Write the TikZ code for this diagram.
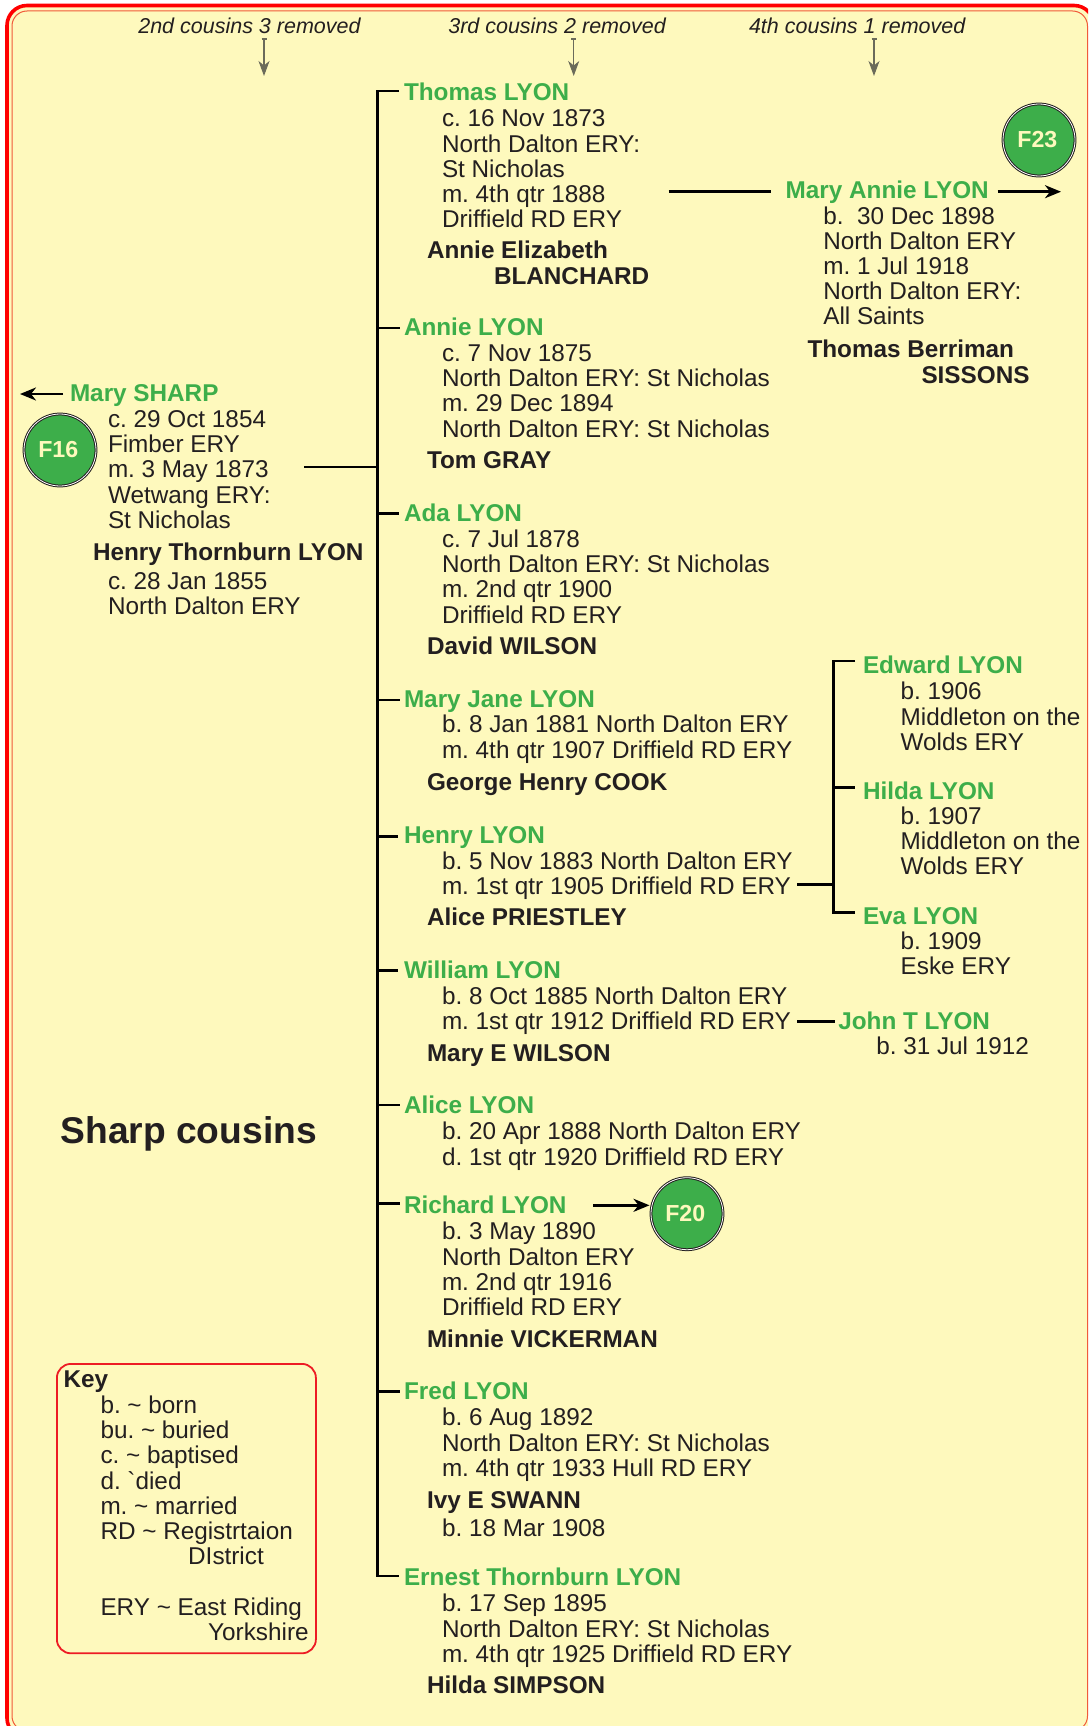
\documentclass[tikz,border=0pt]{standalone}
\usepackage{fontspec}
\setmainfont{Liberation Sans}
\frenchspacing
\usetikzlibrary{arrows.meta,calc}
\definecolor{cream}{HTML}{FEF9BD}
\definecolor{fgreen}{HTML}{3DAE4A}
\definecolor{ink}{HTML}{231F20}
\definecolor{framered}{HTML}{FF0000}
\definecolor{thinred}{HTML}{F15A3A}
\definecolor{keyred}{HTML}{ED1C24}
\definecolor{garrow}{HTML}{6B6B5A}
\newcommand\ls[1]{\vtop{\def\\{\cr}\halign{##\hfil\cr#1\crcr}}}
\newcommand\tld{\textasciitilde}
\tikzset{
  x=1pt,y=-1pt,
  txt/.style={anchor=base west,inner sep=0pt,outer sep=0pt,text=ink,yshift=-0.8pt},
  gname/.style={txt,text=fgreen,font=\fontsize{24.3}{25.2}\selectfont\bfseries},
  bodytxt/.style={txt,font=\fontsize{24.3}{25.2}\selectfont},
  spousetxt/.style={txt,font=\fontsize{24.3}{25.2}\selectfont\bfseries},
  headtxt/.style={txt,font=\fontsize{21.5}{25}\selectfont\itshape},
  famball/.style={circle,minimum size=72pt,inner sep=0pt,fill=fgreen,draw=ink,double=white,double distance=.8pt,line width=1pt,text=cream,font=\fontsize{23.2}{25}\selectfont\bfseries},
  tree/.style={line width=2.5pt,draw=black,line cap=butt},
  arr/.style={line width=2.5pt,draw=black,-{Stealth[length=16pt,width=13pt,inset=5pt]}},
  garr/.style={line width=1.1pt,draw=garrow,{Bar[width=5pt,length=1pt]}-{Stealth[length=15pt,width=11pt,inset=4.5pt]}},
}
\begin{document}
\begin{tikzpicture}
\useasboundingbox (0,0) rectangle (1088,1726);
\fill[white] (0,0) rectangle (1088,1726);
\begin{scope}
\clip (0,0) rectangle (1088,1726);
\draw[framered,line width=3.6pt,fill=cream,rounded corners=20pt] (7,5.5) rectangle (1094,1738);
\draw[thinred,line width=1pt,rounded corners=15pt] (12,11) rectangle (1087.5,1731);
\end{scope}

% column headers
\node[headtxt] (h2) at (138.3,32.7) {2nd cousins 3 removed};
\node[headtxt] (h3) at (448.3,32.7) {3rd cousins 2 removed};
\node[headtxt] (h4) at (749,32.7) {4th cousins 1 removed};
\coordinate (h2a) at (264,38.5); \coordinate (h2b) at (264,76);
\coordinate (h3a) at (573.7,38.5); \coordinate (h3b) at (573.7,76);
\coordinate (h4a) at (874,38.5); \coordinate (h4b) at (874,76);
\draw[garr] (h2a) -- (h2b);
\draw[garr] (h3a) -- (h3b);
\draw[garr] (h4a) -- (h4b);

% parents
\node[gname] (nSharp) at (70,400.7) {Mary SHARP};
\node[bodytxt] (bSharp) at (108,426.7) {\ls{c. 29 Oct 1854\\Fimber ERY\\m. 3 May 1873\\Wetwang ERY:\\St Nicholas}};
\node[spousetxt] (sHenryT) at (93,560) {Henry Thornburn LYON};
\node[bodytxt] (bHenryT) at (108,588.7) {\ls{c. 28 Jan 1855\\North Dalton ERY}};
\node[famball] (F16) at (60,450) {\kern-3.4pt F16};
\coordinate (sharpArrow) at (20,394);
\coordinate (parentStart) at (304,467);

% children
\node[gname] (nThomas) at (404,99.5) {Thomas LYON};
\node[bodytxt] (bThomas) at (442,126) {\ls{c. 16 Nov 1873\\North Dalton ERY:\\St Nicholas\\m. 4th qtr 1888\\Driffield RD ERY}};
\node[spousetxt] (sThomas) at (427,258) {\ls{Annie Elizabeth\\\hspace*{67pt}BLANCHARD}};

\node[gname] (nAnnie) at (404,335) {Annie LYON};
\node[bodytxt] (bAnnie) at (442,360.7) {\ls{c. 7 Nov 1875\\North Dalton ERY: St Nicholas\\m. 29 Dec 1894\\North Dalton ERY: St Nicholas}};
\node[spousetxt] (sAnnie) at (427,468) {Tom GRAY};

\node[gname] (nAda) at (404,521) {Ada LYON};
\node[bodytxt] (bAda) at (442,546.7) {\ls{c. 7 Jul 1878\\North Dalton ERY: St Nicholas\\m. 2nd qtr 1900\\Driffield RD ERY}};
\node[spousetxt] (sAda) at (427,654) {David WILSON};

\node[gname] (nMaryJ) at (404,707) {Mary Jane LYON};
\node[bodytxt] (bMaryJ) at (442,732) {\ls{b. 8 Jan 1881 North Dalton ERY\\m. 4th qtr 1907 Driffield RD ERY}};
\node[spousetxt] (sMaryJ) at (427,790) {George Henry COOK};

\node[gname] (nHenry) at (404,842.7) {Henry LYON};
\node[bodytxt] (bHenry) at (442,868.7) {\ls{b. 5 Nov 1883 North Dalton ERY\\m. 1st qtr 1905 Driffield RD ERY}};
\node[spousetxt] (sHenry) at (427,925) {Alice PRIESTLEY};

\node[gname] (nWilliam) at (404,978) {William LYON};
\node[bodytxt] (bWilliam) at (442,1003.7) {\ls{b. 8 Oct 1885 North Dalton ERY\\m. 1st qtr 1912 Driffield RD ERY}};
\node[spousetxt] (sWilliam) at (427,1060.7) {Mary E WILSON};

\node[gname] (nAlice) at (404,1113) {Alice LYON};
\node[bodytxt] (bAlice) at (442,1139) {\ls{b. 20 Apr 1888 North Dalton ERY\\d. 1st qtr 1920 Driffield RD ERY}};

\node[gname] (nRichard) at (404,1213) {Richard LYON};
\node[bodytxt] (bRichard) at (442,1239) {\ls{b. 3 May 1890\\North Dalton ERY\\m. 2nd qtr 1916\\Driffield RD ERY}};
\node[spousetxt] (sRichard) at (427,1346.7) {Minnie VICKERMAN};
\node[famball] (F20) at (687,1213.7) {\kern-3.4pt F20};

\node[gname] (nFred) at (404,1399) {Fred LYON};
\node[bodytxt] (bFred) at (442,1425) {\ls{b. 6 Aug 1892\\North Dalton ERY: St Nicholas\\m. 4th qtr 1933 Hull RD ERY}};
\node[spousetxt] (sFred) at (427,1507.7) {Ivy E SWANN};
\node[bodytxt] (bIvy) at (442,1536) {b. 18 Mar 1908};

\node[gname] (nErnest) at (404,1585) {Ernest Thornburn LYON};
\node[bodytxt] (bErnest) at (442,1611) {\ls{b. 17 Sep 1895\\North Dalton ERY: St Nicholas\\m. 4th qtr 1925 Driffield RD ERY}};
\node[spousetxt] (sErnest) at (427,1693) {Hilda SIMPSON};

% trunk
\coordinate (tThomas) at (377.5,91);
\coordinate (tParent) at (377.5,467);
\coordinate (tAnnie) at (377.5,328);
\coordinate (tAda) at (377.5,513.3);
\coordinate (tMaryJ) at (377.5,700);
\coordinate (tHenry) at (377.5,836.7);
\coordinate (tWilliam) at (377.5,970.7);
\coordinate (tAlice) at (377.5,1105);
\coordinate (tRichard) at (377.5,1203.7);
\coordinate (tFred) at (377.5,1391.7);
\coordinate (tErnest) at (377.5,1576);
\draw[tree,line join=miter,shorten <=5pt,shorten >=5pt] (tThomas -| nThomas.west) -- (tThomas) -- (tErnest) -- (tErnest -| nErnest.west);
\foreach \c/\g in {Annie/4,Ada/5,MaryJ/4,Henry/6,William/6,Alice/4,Richard/4,Fred/4}
  \draw[tree,shorten >=\g pt] (t\c) -- (t\c -| n\c.west);
\draw[tree] (parentStart) -- (tParent);
\draw[arr,shorten <=7pt] (sharpArrow -| nSharp.west) -- (sharpArrow);

% Mary Annie
\node[gname] (nMaryA) at (785.7,198) {Mary Annie LYON};
\node[bodytxt] (bMaryA) at (823.3,223.3) {\ls{b.\ \ 30 Dec 1898\\North Dalton ERY\\m. 1 Jul 1918\\North Dalton ERY:\\All Saints}};
\node[spousetxt] (sMaryA) at (807.5,357) {\ls{Thomas Berriman\\\hspace*{114pt}SISSONS}};
\node[famball] (F23) at (1039,140) {\kern-3.4pt F23};
\coordinate (maStart) at (668.5,191.7);
\coordinate (maEnd) at (1061,191.7);
\draw[tree,shorten >=15pt] (maStart) -- (maStart -| nMaryA.west);
\draw[arr,shorten <=9pt] (maEnd -| nMaryA.east) -- (maEnd);

% Henry's children
\node[gname] (nEdward) at (863,672.7) {Edward LYON};
\node[bodytxt] (bEdward) at (900.7,699) {\ls{b. 1906\\Middleton on the\\Wolds ERY}};
\node[gname] (nHilda) at (863,798.3) {Hilda LYON};
\node[bodytxt] (bHilda) at (900.7,823.7) {\ls{b. 1907\\Middleton on the\\Wolds ERY}};
\node[gname] (nEva) at (863,923.3) {Eva LYON};
\node[bodytxt] (bEva) at (900.7,948.3) {\ls{b. 1909\\Eske ERY}};
\coordinate (uEdward) at (833.3,661);
\coordinate (uHilda) at (833.3,787.3);
\coordinate (uEva) at (833.3,912.7);
\coordinate (uHenry) at (833.3,884.7);
\coordinate (henryStart) at (797.3,884.7);
\draw[tree,line join=miter,shorten <=8pt,shorten >=8pt] (uEdward -| nEdward.west) -- (uEdward) -- (uEva) -- (uEva -| nEva.west);
\draw[tree,shorten >=8pt] (uHilda) -- (uHilda -| nHilda.west);
\draw[tree] (henryStart) -- (uHenry);

% William's child
\node[gname] (nJohn) at (838.3,1028.3) {John T LYON};
\node[bodytxt] (bJohn) at (876.3,1053.7) {b. 31 Jul 1912};
\coordinate (johnStart) at (797.3,1021.3);
\draw[tree,shorten >=3pt] (johnStart) -- (johnStart -| nJohn.west);

% Richard to F20
\coordinate (richStart) at (593.3,1205.3);
\draw[arr,shorten >=1pt] (richStart) -- (richStart -| F20.west);

% title
\node[txt,font=\fontsize{37.2}{40}\selectfont\bfseries] (title) at (60.5,1142.5) {Sharp cousins};

% key
\node[draw=keyred,line width=1.8pt,rounded corners=14pt,minimum width=259pt,minimum height=289.4pt,inner sep=0pt,anchor=north west] (keybox) at (56,1363) {};
\node[spousetxt] (keyhead) at (63.5,1386.7) {Key};
\node[bodytxt] (keytext) at (100.5,1412.7) {\ls{b. \tld\ born\\bu. \tld\ buried\\c. \tld\ baptised\\d. \textasciigrave died\\m. \tld\ married\\RD \tld\ Registrtaion\\\hspace*{87.7pt}DIstrict\\~\\ERY \tld\ East Riding\\\hspace*{107.7pt}Yorkshire}};
\end{tikzpicture}
\end{document}
